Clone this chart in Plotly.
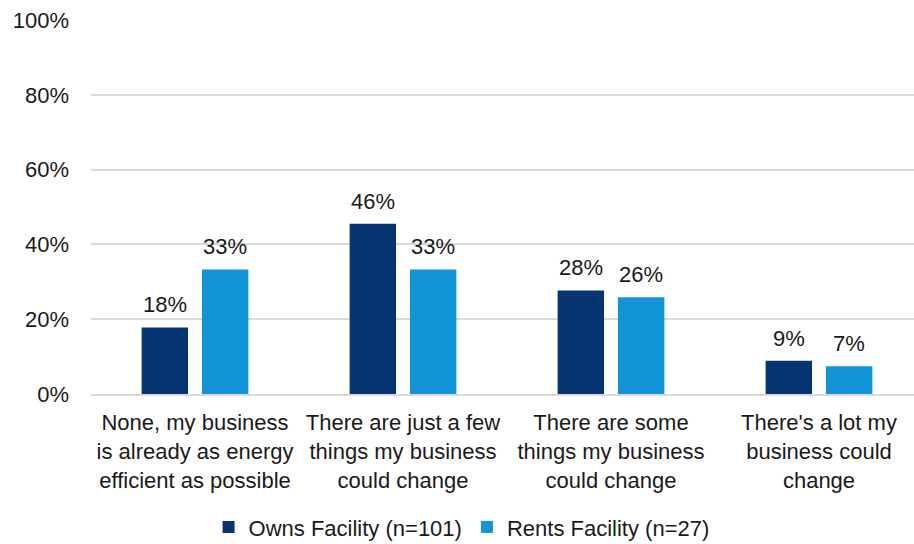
import plotly.graph_objects as go

categories = [
    "None, my business<br>is already as energy<br>efficient as possible",
    "There are just a few<br>things my business<br>could change",
    "There are some<br>things my business<br>could change",
    "There's a lot my<br>business could<br>change",
]
owns_pct = [17.8, 45.5, 27.7, 8.9]     # Owns Facility (n=101)
rents_pct = [33.3, 33.3, 25.9, 7.4]    # Rents Facility (n=27)
series_names = ["Owns Facility (n=101)", "Rents Facility (n=27)"]
y_ticks = [0, 20, 40, 60, 80, 100]

OWN_COLOR = "#063572"
RENT_COLOR = "#1394d7"
FONT = "Liberation Sans, Arial, sans-serif"
FS = 22
BARGAP = 0.42
BARGROUPGAP = 0.23

fig = go.Figure()
fig.add_trace(go.Bar(x=list(range(len(categories))), y=owns_pct, name=series_names[0],
                     marker=dict(color=OWN_COLOR, line=dict(width=0))))
fig.add_trace(go.Bar(x=list(range(len(categories))), y=rents_pct, name=series_names[1],
                     marker=dict(color=RENT_COLOR, line=dict(width=0))))

# value labels above each bar, offset to the bar centres within each group
slot = (1 - BARGAP) / 2
for series, shift in ((owns_pct, -slot / 2), (rents_pct, slot / 2)):
    for i, v in enumerate(series):
        fig.add_annotation(x=i + shift, y=v, text=f"{v:.0f}%", showarrow=False,
                           yanchor="bottom", yshift=8,
                           font=dict(size=FS, color="#1a1a1a", family=FONT))

fig.update_layout(
    width=914, height=544,
    margin=dict(l=91, r=0, t=20, b=150, autoexpand=False),
    paper_bgcolor="white", plot_bgcolor="white",
    barmode="group", bargap=BARGAP, bargroupgap=BARGROUPGAP,
    font=dict(family=FONT, size=FS, color="#1a1a1a"),
    showlegend=True,
    legend=dict(orientation="h", xref="container", x=0.505, xanchor="center",
                yref="container", y=0.031, yanchor="middle",
                font=dict(size=FS), itemwidth=30, traceorder="normal"),
)
fig.update_xaxes(
    tickmode="array", tickvals=list(range(len(categories))), ticktext=categories,
    range=[-0.5, -0.5 + 823 / 208], showgrid=False, showline=True,
    linecolor="#d9d9d9", linewidth=2, ticks="", ticklabelstandoff=8,
    tickfont=dict(size=FS),
)
fig.update_yaxes(
    range=[0, 100], tickmode="array", tickvals=y_ticks,
    ticktext=[f"{t}%" for t in y_ticks], showgrid=True,
    gridcolor="#d9d9d9", gridwidth=2, zeroline=False, showline=False,
    ticks="", ticklabelstandoff=21, tickfont=dict(size=FS),
)

fig.write_html("out.html")
